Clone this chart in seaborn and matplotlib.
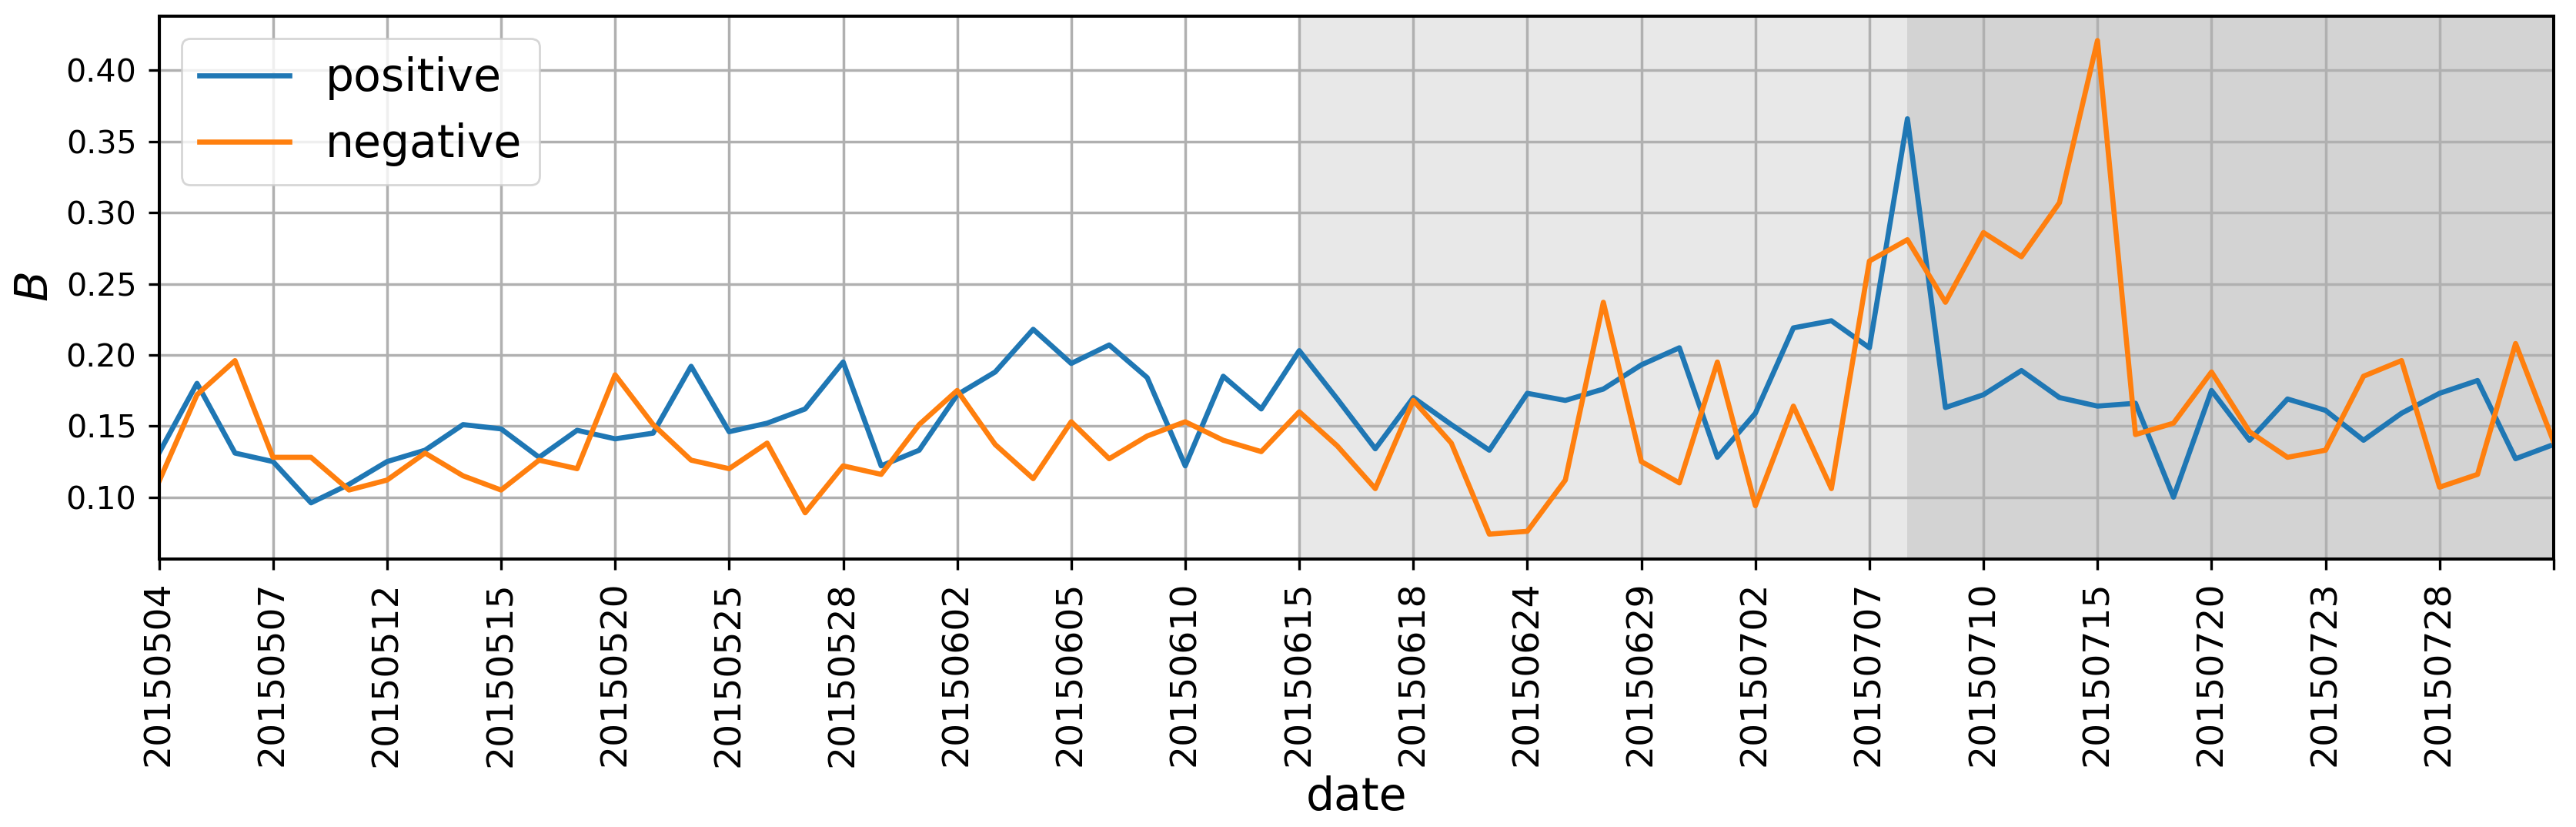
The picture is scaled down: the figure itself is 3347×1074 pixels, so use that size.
import matplotlib.pyplot as plt
import pandas as pd
import seaborn as sns

dates = [
    "20150504", "20150505", "20150506", "20150507", "20150508", "20150511",
    "20150512", "20150513", "20150514", "20150515", "20150518", "20150519",
    "20150520", "20150521", "20150522", "20150525", "20150526", "20150527",
    "20150528", "20150529", "20150601", "20150602", "20150603", "20150604",
    "20150605", "20150608", "20150609", "20150610", "20150611", "20150612",
    "20150615", "20150616", "20150617", "20150618", "20150619", "20150623",
    "20150624", "20150625", "20150626", "20150629", "20150630", "20150701",
    "20150702", "20150703", "20150706", "20150707", "20150708", "20150709",
    "20150710", "20150713", "20150714", "20150715", "20150716", "20150717",
    "20150720", "20150721", "20150722", "20150723", "20150724", "20150727",
    "20150728", "20150729", "20150730", "20150731",
]

positive = [
    0.131, 0.180, 0.131, 0.125, 0.096, 0.109, 0.125, 0.133, 0.151, 0.148,
    0.128, 0.147, 0.141, 0.145, 0.192, 0.146, 0.152, 0.162, 0.195, 0.122,
    0.133, 0.172, 0.188, 0.218, 0.194, 0.207, 0.184, 0.122, 0.185, 0.162,
    0.203, 0.169, 0.134, 0.170, 0.151, 0.133, 0.173, 0.168, 0.176, 0.193,
    0.205, 0.128, 0.159, 0.219, 0.224, 0.205, 0.366, 0.163, 0.172, 0.189,
    0.170, 0.164, 0.166, 0.100, 0.175, 0.140, 0.169, 0.161, 0.140, 0.159,
    0.173, 0.182, 0.127, 0.137,
]

negative = [
    0.111, 0.172, 0.196, 0.128, 0.128, 0.105, 0.112, 0.131, 0.115, 0.105,
    0.126, 0.120, 0.186, 0.151, 0.126, 0.120, 0.138, 0.089, 0.122, 0.116,
    0.151, 0.175, 0.137, 0.113, 0.153, 0.127, 0.143, 0.153, 0.140, 0.132,
    0.160, 0.136, 0.106, 0.168, 0.138, 0.074, 0.076, 0.112, 0.237, 0.125,
    0.110, 0.195, 0.094, 0.164, 0.106, 0.266, 0.281, 0.237, 0.286, 0.269,
    0.307, 0.421, 0.144, 0.152, 0.188, 0.146, 0.128, 0.133, 0.185, 0.196,
    0.107, 0.116, 0.208, 0.139,
]

df = pd.DataFrame({"date": dates, "positive": positive, "negative": negative})
df["pos"] = range(len(df))
long_df = df.melt(id_vars=["date", "pos"], value_vars=["positive", "negative"],
                  var_name="series", value_name="B")

fig, ax = plt.subplots(figsize=(16.74, 5.37), dpi=200)
fig.subplots_adjust(left=0.0617, right=0.991, top=0.9808, bottom=0.3243)

# periodos sombreados
ax.axvspan(dates.index("20150615"), dates.index("20150708"), color="lightgray", alpha=0.5, lw=0)
ax.axvspan(dates.index("20150708"), len(dates) - 1, color="lightgray", lw=0)

sns.lineplot(data=long_df, x="pos", y="B", hue="series",
             palette=["#1f77b4", "#ff7f0e"], linewidth=2.4, ax=ax)

ax.set_xlim(0, len(dates) - 1)
# um tick a cada 3 dias, o ultimo sem rotulo
ticks = list(range(0, len(dates), 3))
labels = [dates[i] if i <= 60 else "" for i in ticks]
ax.set_xticks(ticks)
ax.set_xticklabels(labels, rotation=90, fontsize=17)
ax.tick_params(axis="y", labelsize=14.8)
ax.tick_params(length=5, width=1.2, pad=5.5)
ax.grid(True, color="#b0b0b0", lw=1.25)
for s in ax.spines.values():
    s.set_linewidth(1.45)

ax.set_xlabel("date", fontsize=21)
ax.set_ylabel("$B$", fontsize=21)
ax.legend(loc="upper left", fontsize=21)

plt.savefig("out.png")
